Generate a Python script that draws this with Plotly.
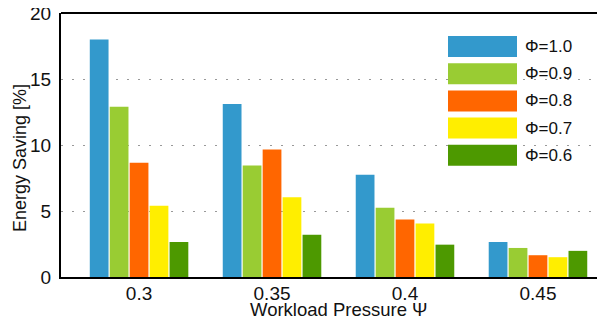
import plotly.graph_objects as go

categories = ["0.3", "0.35", "0.4", "0.45"]
series_names = ["Φ=1.0", "Φ=0.9", "Φ=0.8", "Φ=0.7", "Φ=0.6"]
phi_10 = [18.0, 13.1, 7.75, 2.65]
phi_09 = [12.9, 8.45, 5.25, 2.2]
phi_08 = [8.65, 9.65, 4.35, 1.65]
phi_07 = [5.4, 6.05, 4.05, 1.5]
phi_06 = [2.65, 3.2, 2.45, 1.98]
series_values = [phi_10, phi_09, phi_08, phi_07, phi_06]
colors = ["#3399CC", "#99CC33", "#FF6600", "#FFEE00", "#4D9900"]
y_ticks = [0, 5, 10, 15, 20]
x_title = "Workload Pressure Ψ"
y_title = "Energy Saving [%]"

fig = go.Figure()
for name, vals, col in zip(series_names, series_values, colors):
    fig.add_trace(go.Bar(x=list(range(len(categories))), y=vals, name=name,
                         marker=dict(color=col, line=dict(width=0)),
                         showlegend=False))

# page body has an 8px margin, so the figure is sized/shifted to compensate
font = "Liberation Sans, Arial, sans-serif"
fig.update_layout(
    width=597, height=312,
    margin=dict(l=53, r=0, t=5, b=43),
    paper_bgcolor="white", plot_bgcolor="white",
    barmode="group", bargap=0.25, bargroupgap=0.06,
    font=dict(family=font, color="#111111"),
    xaxis=dict(range=[-0.587, 3.504], tickmode="array",
               tickvals=list(range(len(categories))), ticktext=categories,
               tickfont=dict(size=19), showgrid=False, zeroline=False,
               showline=True, linecolor="black", linewidth=2, ticks="",
               automargin=False, ticklabelstandoff=-2),
    yaxis=dict(range=[0, 20], tickvals=y_ticks, tickfont=dict(size=19),
               showgrid=True, gridcolor="#999999", griddash="2px,9px", gridwidth=1,
               zeroline=False, showline=True, linecolor="black", linewidth=2,
               ticks="", ticklabelstandoff=4, automargin=False,
               ticklabeloverflow="allow"),
)
# top border
fig.add_shape(type="line", xref="paper", yref="paper", x0=0, x1=1, y0=1, y1=1,
              line=dict(color="black", width=2))

plot_h = 264
plot_w = 544

def px(wx):
    return (wx - 61) / plot_w

def py(wy):
    return 1 - (wy - 13) / plot_h

# axis titles
fig.add_annotation(xref="paper", yref="paper", x=px(339), y=py(309.5), text=x_title,
                   showarrow=False, xanchor="center", yanchor="middle",
                   font=dict(size=18.5, color="#111111"))
fig.add_annotation(xref="paper", yref="paper", x=px(20), y=py(158), text=y_title,
                   showarrow=False, xanchor="center", yanchor="middle", textangle=-90,
                   font=dict(size=18, color="#111111"))

# legend drawn as boxes + labels
for i, (name, col) in enumerate(zip(series_names, colors)):
    yc = 46.5 + i * 27.2
    fig.add_shape(type="rect", xref="paper", yref="paper", x0=px(448), x1=px(517),
                  y0=py(yc + 10.5), y1=py(yc - 10.5), fillcolor=col, line=dict(width=0))
    fig.add_annotation(xref="paper", yref="paper", x=px(523), y=py(yc), text=name,
                       showarrow=False, xanchor="left", yanchor="middle",
                       font=dict(size=17, color="#111111"))

fig.write_html("out.html")
